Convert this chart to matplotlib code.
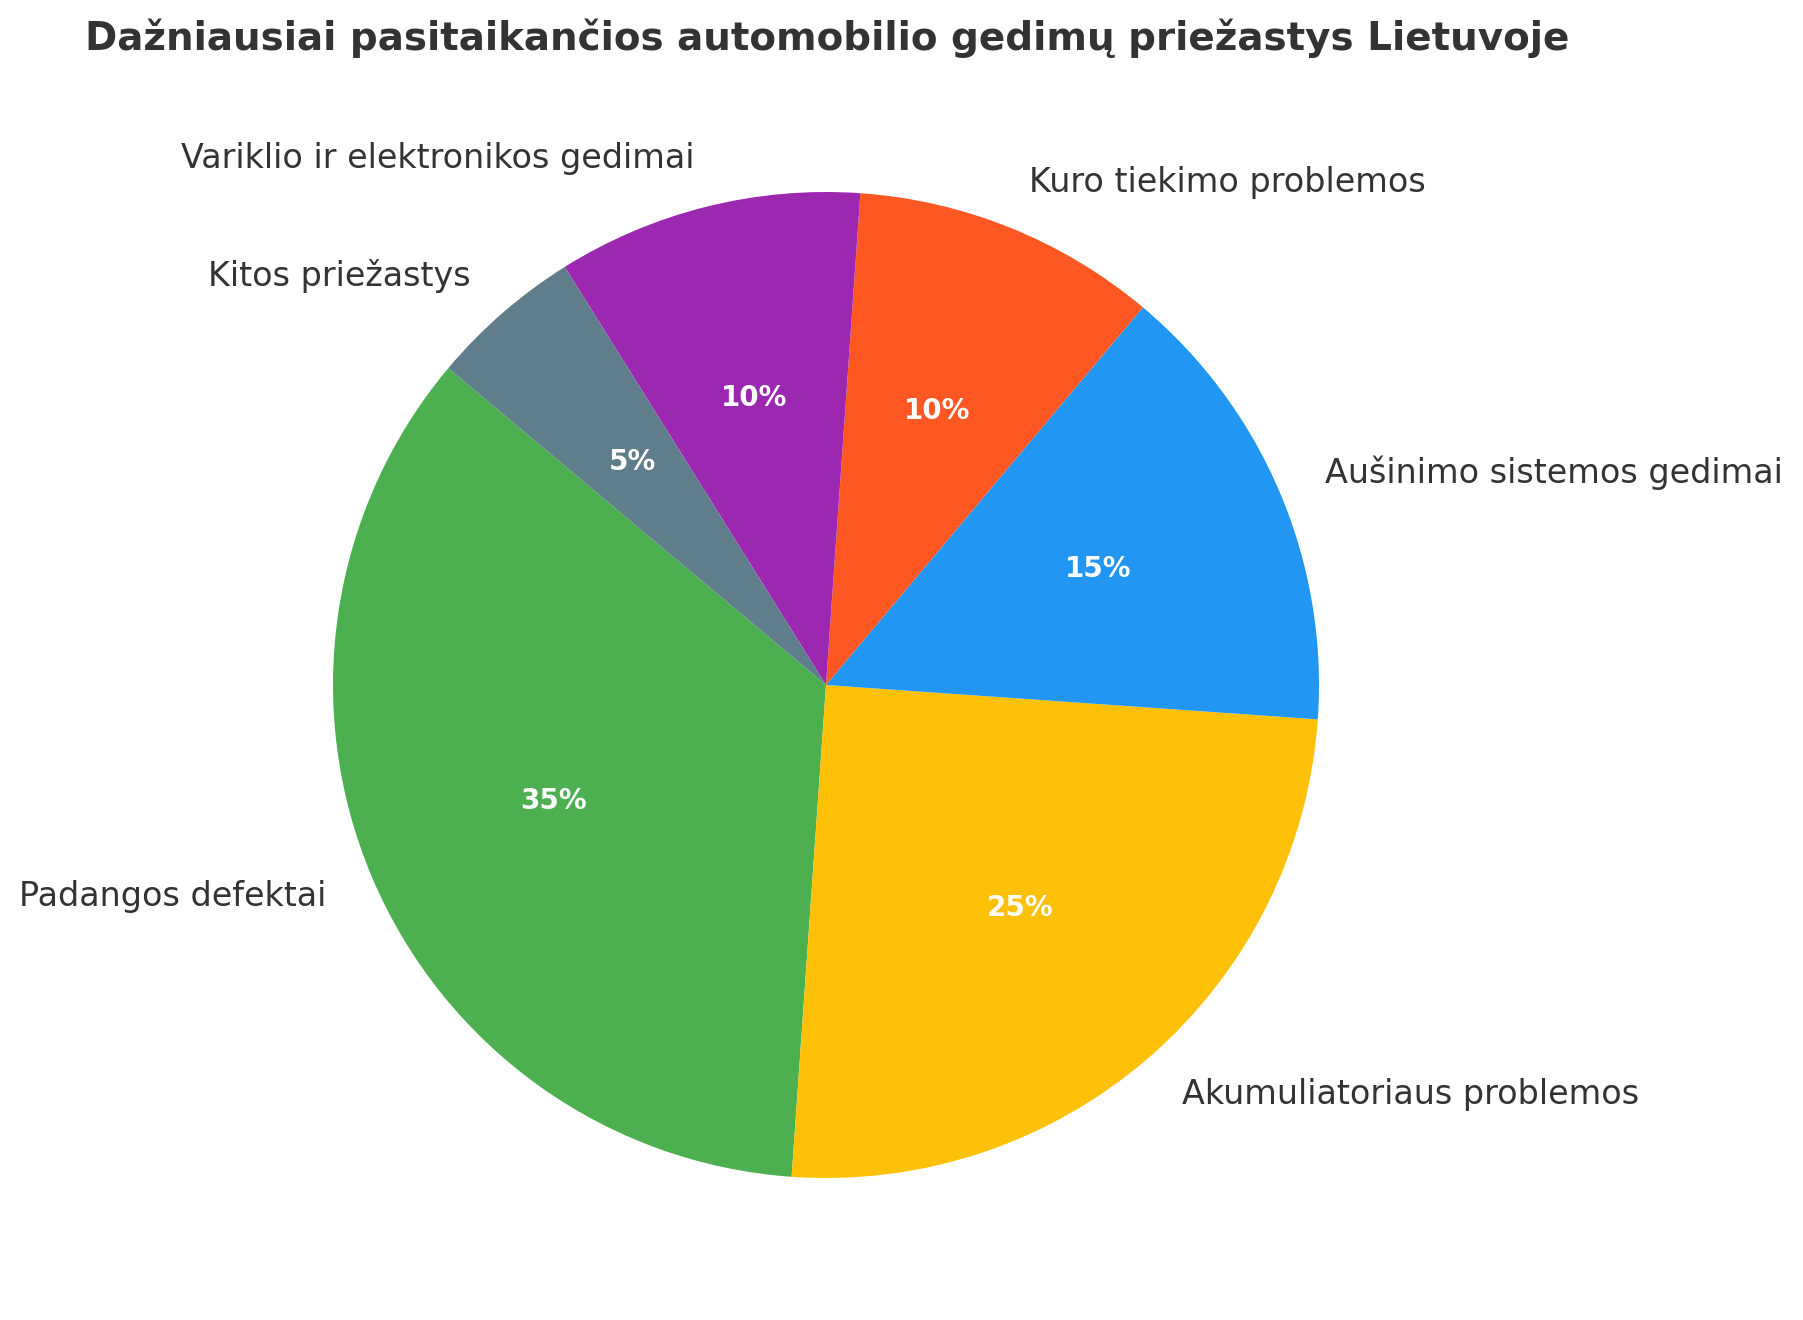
import matplotlib
matplotlib.use("Agg")
import matplotlib.pyplot as plt

categories = ["Padangos defektai", "Akumuliatoriaus problemos", "Aušinimo sistemos gedimai",
              "Kuro tiekimo problemos", "Variklio ir elektronikos gedimai", "Kitos priežastys"]
values = [35, 25, 15, 10, 10, 5]
colors = ["#4CAF50", "#FFC107", "#2196F3", "#FF5722", "#9C27B0", "#607D8B"]
title = "Dažniausiai pasitaikančios automobilio gedimų priežastys Lietuvoje"

W, H = 1803, 1320
fig = plt.figure(figsize=(W / 100, H / 100), dpi=100)
cx, cy, r = 826, 685, 493
S = 2.5 * r
ax = fig.add_axes([(cx - S / 2) / W, (H - cy - S / 2) / H, S / W, S / H])

wedges, texts, autotexts = ax.pie(
    values, labels=categories, colors=colors, startangle=140,
    autopct="%1.0f%%", pctdistance=0.6, labeldistance=1.1,
    textprops={"fontsize": 24, "color": "#333333"},
)
for t in autotexts:
    t.set_color("white")
    t.set_fontweight("bold")
    t.set_fontsize(20)
ax.set_xlim(-1.25, 1.25)
ax.set_ylim(-1.25, 1.25)
ax.set_aspect("equal")

fig.text(827 / W, 1 - 38 / H, title, ha="center", va="center",
         fontsize=28, fontweight="bold", color="#333333")

fig.savefig("out.png", dpi=100)
